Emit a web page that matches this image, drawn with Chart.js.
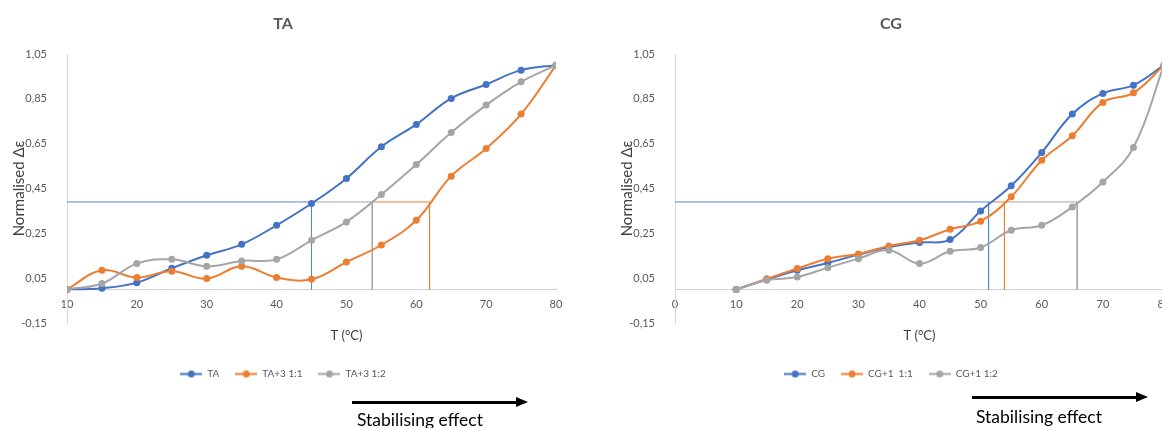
<!DOCTYPE html>
<html><head><meta charset="utf-8">
<script src="https://cdn.jsdelivr.net/npm/chart.js@4.4.1/dist/chart.umd.min.js"></script>
<style>
html,body{margin:0;padding:0;background:#fff;}
body{width:1162px;height:428px;overflow:hidden;position:relative;font-family:Lato,"Open Sans",sans-serif;}
.wrap{position:absolute;top:0;}
.arrow{position:absolute;height:3px;background:#000;}
.arrow:after{content:"";position:absolute;left:100%;top:-4px;width:0;height:0;border-left:12px solid #000;border-top:5.5px solid transparent;border-bottom:5.5px solid transparent;}
.lbl{position:absolute;font-size:17.5px;line-height:20px;color:#000;white-space:nowrap;}
</style></head><body>
<div class="wrap" style="left:0;width:585px;height:400px"><canvas id="cL" width="585" height="400"></canvas></div>
<div class="wrap" style="left:605px;width:580px;height:400px"><canvas id="cR" width="580" height="400"></canvas></div>
<div class="arrow" style="left:352px;top:401px;width:164px"></div>
<div class="lbl" style="left:357px;top:410px">Stabilising effect</div>
<div class="arrow" style="left:972px;top:396px;width:164px"></div>
<div class="lbl" style="left:976px;top:407px">Stabilising effect</div>
<script>
// ---- data ----
const temps = [10,15,20,25,30,35,40,45,50,55,60,65,70,75,80];
const taValues   = [0,0.005,0.03,0.094,0.152,0.201,0.286,0.383,0.495,0.636,0.736,0.852,0.914,0.978,1.0];
const ta31Values = [0,0.085,0.053,0.081,0.048,0.103,0.053,0.045,0.122,0.198,0.308,0.505,0.628,0.782,1.0];
const ta32Values = [0,0.026,0.115,0.134,0.103,0.127,0.134,0.219,0.301,0.423,0.557,0.700,0.822,0.926,1.0];
const cgValues   = [0,0.044,0.085,0.118,0.155,0.189,0.209,0.222,0.350,0.462,0.611,0.782,0.874,0.911,1.0];
const cg11Values = [0,0.047,0.093,0.137,0.158,0.194,0.219,0.268,0.304,0.413,0.576,0.685,0.834,0.877,1.0];
const cg12Values = [0,0.041,0.055,0.097,0.137,0.175,0.115,0.170,0.187,0.264,0.286,0.368,0.479,0.633,1.0];
const yTicks = [-0.15,0.05,0.25,0.45,0.65,0.85,1.05];
const threshold = 0.39;
const taCross = [45, 61.9, 53.7];   // TA, TA+3 1:1, TA+3 1:2
const cgCross = [51.3, 53.9, 65.8]; // CG, CG+1 1:1, CG+1 1:2
const taLabels = ['TA','TA+3 1:1','TA+3 1:2'];
const cgLabels = ['CG','CG+1  1:1','CG+1 1:2'];

const COLORS = ['#4472C4','#ED7D31','#A5A5A5'];
const REFCOLORS = ['#4f86d8','#ED7D31','#A5A5A5'];
const FONT = 'Lato, "Open Sans", sans-serif';
Chart.defaults.font.family = FONT;

function legendIcon(color){
  const c = document.createElement('canvas');
  c.width = 22; c.height = 9;
  const g = c.getContext('2d');
  g.strokeStyle = color; g.lineWidth = 2;
  g.beginPath(); g.moveTo(0,4.5); g.lineTo(22,4.5); g.stroke();
  g.fillStyle = color; g.beginPath(); g.arc(11,4.5,3.5,0,Math.PI*2); g.fill();
  return c;
}

const xTitlePlugin = {
  id: 'xTitle',
  afterDraw(chart, args, opts){
    const {ctx, chartArea, scales} = chart;
    ctx.save();
    ctx.font = '13px ' + FONT;
    ctx.fillStyle = '#404040';
    ctx.textAlign = 'center';
    ctx.textBaseline = 'middle';
    ctx.fillText(opts.text, scales.x.getPixelForValue(opts.at), chartArea.bottom + opts.dy);
    ctx.restore();
  }
};

function build(id, title, labels, series, cross, xmin, padL, padR, xTitleAt){
  const datasets = series.map((vals,i)=>({
    label: labels[i],
    data: temps.map((t,k)=>({x:t, y:vals[k]})),
    borderColor: COLORS[i], backgroundColor: COLORS[i],
    borderWidth: 2, pointRadius: 3.5, pointHoverRadius: 3.5,
    pointBackgroundColor: COLORS[i], pointBorderColor: COLORS[i], pointBorderWidth: 0,
    tension: 0.4, order: 2 - i
  }));
  // reference lines: each horizontal segment starts where the previous (smaller) crossing ends
  const sorted = cross.map((t,i)=>({t,i})).sort((a,b)=>a.t-b.t);
  sorted.forEach((c,k)=>{
    const start = k === 0 ? xmin : sorted[k-1].t;
    datasets.push({
      label: 'ref' + c.i, isRef: true,
      data: [{x:start, y:threshold},{x:c.t, y:threshold},{x:c.t, y:0}],
      borderColor: REFCOLORS[c.i], borderWidth: 1, pointRadius: 0, tension: 0,
      order: 3 + k
    });
  });
  return new Chart(document.getElementById(id), {
    type: 'line',
    data: { datasets },
    plugins: [xTitlePlugin],
    options: {
      responsive: false, animation: false,
      layout: { padding: { left: padL, right: padR, top: 0, bottom: 11 } },
      plugins: {
        tooltip: { enabled: false },
        xTitle: { text: 'T (°C)', at: xTitleAt, dy: 13 },
        title: { display: true, text: title, color: '#595959',
          font: { size: 16, weight: 'bold', family: FONT }, padding: { top: 14.4, bottom: 20.4 } },
        legend: {
          position: 'bottom',
          title: { display: true, text: ' ', font: { size: 10 }, padding: { top: 18, bottom: 0 } },
          labels: {
            usePointStyle: true, pointStyleWidth: 22, padding: 16, color: '#595959',
            font: { size: 10, family: FONT },
            generateLabels: chart => chart.data.datasets
              .map((ds,i)=>({ text: ds.label, datasetIndex: i, pointStyle: legendIcon(ds.borderColor),
                fillStyle: ds.borderColor, strokeStyle: ds.borderColor, lineWidth: 0, hidden: false, fontColor: '#595959', isRef: ds.isRef }))
              .filter(it => !it.isRef)
          }
        }
      },
      scales: {
        x: {
          type: 'linear', position: { y: 0 }, min: xmin, max: 80,
          grid: { display: false },
          border: { display: true, color: '#d0d0d0', width: 1 },
          ticks: { stepSize: 10, color: '#595959', font: { size: 11 }, padding: 0 }
        },
        y: {
          type: 'linear', position: 'left', min: -0.15, max: 1.05,
          afterBuildTicks: s => { s.ticks = yTicks.map(v => ({ value: v })); },
          afterFit: s => { s.width = 57; },
          grid: { display: false },
          border: { display: true, color: '#d9d9d9', width: 1 },
          ticks: { color: '#595959', font: { size: 11 }, padding: 12,
            callback: v => v.toFixed(2).replace('.', ',') },
          title: { display: true, text: 'Normalised Δε', color: '#404040',
            font: { size: 15 }, padding: { top: 0, bottom: 0 } }
        }
      }
    }
  });
}

build('cL', 'TA', taLabels, [taValues, ta31Values, ta32Values], taCross, 10, 10, 29, 50);
build('cR', 'CG', cgLabels, [cgValues, cg11Values, cg12Values], cgCross, 0, 13, 21, 40);
</script>
</body></html>
